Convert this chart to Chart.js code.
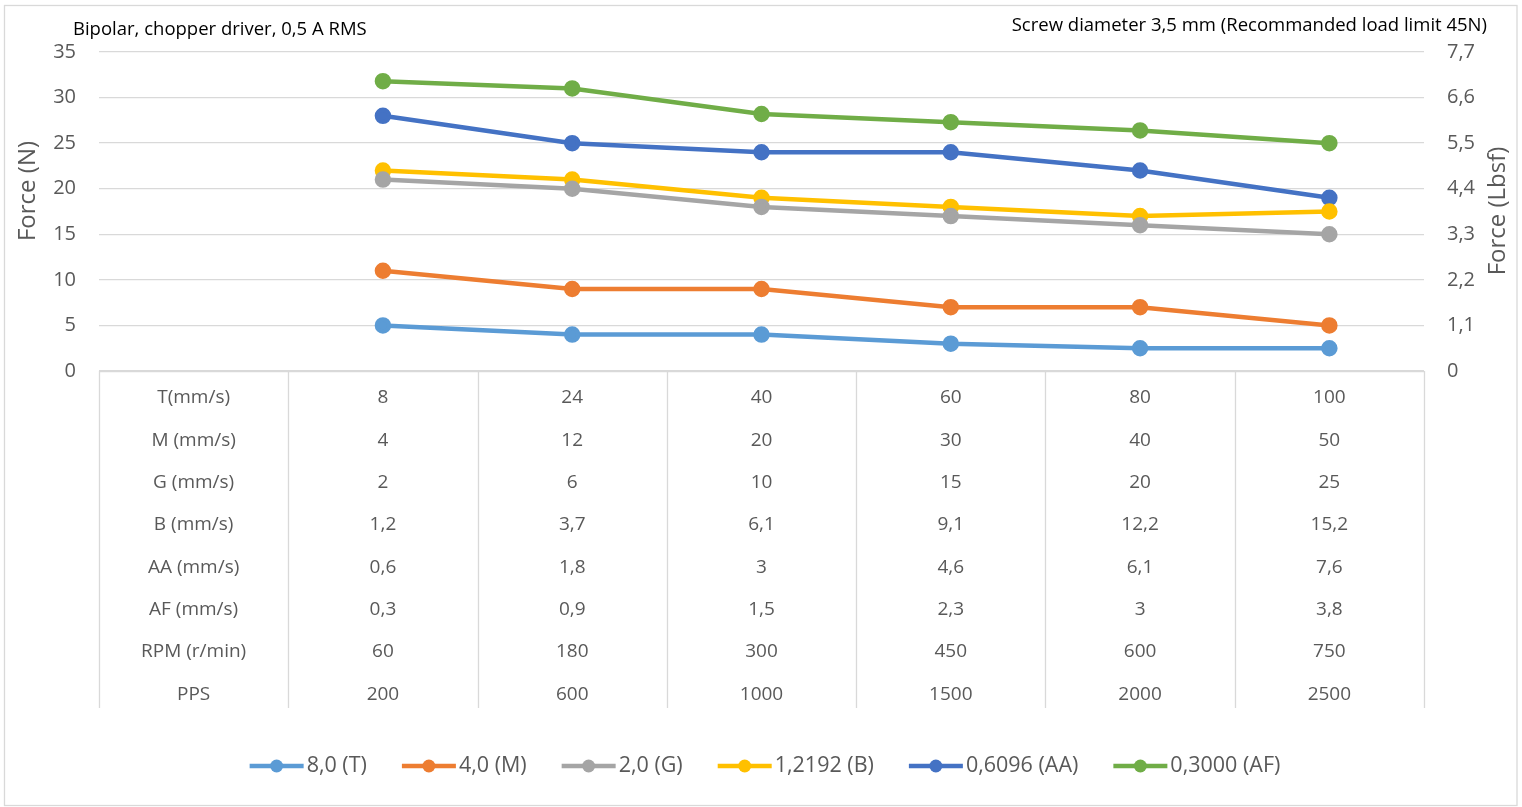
<!DOCTYPE html>
<html>
<head>
<meta charset="utf-8">
<script src="https://cdn.jsdelivr.net/npm/chart.js@4/dist/chart.umd.min.js"></script>
<style>
html,body{margin:0;padding:0;background:#fff;}
#wrap{position:relative;width:1522px;height:807px;}
</style>
</head>
<body>
<div id="wrap"><canvas id="c"></canvas></div>
<script>
// ---- data ----
const titleLeft = 'Bipolar, chopper driver, 0,5 A RMS';
const titleRight = 'Screw diameter 3,5 mm (Recommanded load limit 45N)';
const axisTitleLeft = 'Force (N)';
const axisTitleRight = 'Force (Lbsf)';

const categories = ['8', '24', '40', '60', '80', '100'];

const seriesNames = ['8,0 (T)', '4,0 (M)', '2,0 (G)', '1,2192 (B)', '0,6096 (AA)', '0,3000 (AF)'];
const seriesColors = ['#5B9BD5', '#ED7D31', '#A5A5A5', '#FFC000', '#4472C4', '#70AD47'];
const forceT  = [5, 4, 4, 3, 2.5, 2.5];
const forceM  = [11, 9, 9, 7, 7, 5];
const forceG  = [21, 20, 18, 17, 16, 15];
const forceB  = [22, 21, 19, 18, 17, 17.5];
const forceAA = [28, 25, 24, 24, 22, 19];
const forceAF = [31.8, 31, 28.2, 27.3, 26.4, 25];

const leftTicks = [0, 5, 10, 15, 20, 25, 30, 35];
const rightTicks = [0, 1.1, 2.2, 3.3, 4.4, 5.5, 6.6, 7.7];
const rightTickLabels = ['0', '1,1', '2,2', '3,3', '4,4', '5,5', '6,6', '7,7'];

const rowLabels = ['T(mm/s)', 'M (mm/s)', 'G (mm/s)', 'B (mm/s)', 'AA (mm/s)', 'AF (mm/s)', 'RPM (r/min)', 'PPS'];
const rowT   = ['8', '24', '40', '60', '80', '100'];
const rowM   = ['4', '12', '20', '30', '40', '50'];
const rowG   = ['2', '6', '10', '15', '20', '25'];
const rowB   = ['1,2', '3,7', '6,1', '9,1', '12,2', '15,2'];
const rowAA  = ['0,6', '1,8', '3', '4,6', '6,1', '7,6'];
const rowAF  = ['0,3', '0,9', '1,5', '2,3', '3', '3,8'];
const rowRPM = ['60', '180', '300', '450', '600', '750'];
const rowPPS = ['200', '600', '1000', '1500', '2000', '2500'];

// ---- build ----
const FONT = '"Open Sans", Lato, sans-serif';
const TXT = '#595959';
const GRID = '#D9D9D9';
const seriesValues = [forceT, forceM, forceG, forceB, forceAA, forceAF];
const tableRows = [rowT, rowM, rowG, rowB, rowAA, rowAF, rowRPM, rowPPS];

const labels = [''].concat(categories);
const datasets = seriesValues.map((vals, i) => ({
  label: seriesNames[i],
  data: [null].concat(vals),
  borderColor: seriesColors[i],
  backgroundColor: seriesColors[i],
  pointBackgroundColor: seriesColors[i],
  pointBorderColor: seriesColors[i],
  borderWidth: 4.5,
  pointRadius: 6,
  pointHoverRadius: 6,
  tension: 0,
  yAxisID: 'y'
}));

const decor = {
  id: 'decor',
  beforeDraw(chart) {
    const ctx = chart.ctx;
    ctx.save();
    ctx.fillStyle = '#fff';
    ctx.fillRect(0, 0, chart.width, chart.height);
    ctx.restore();
  },
  afterDraw(chart) {
    const ctx = chart.ctx;
    const area = chart.chartArea;
    const xs = chart.scales.x;
    ctx.save();
    // outer frame
    ctx.strokeStyle = GRID;
    ctx.lineWidth = 1.3;
    ctx.strokeRect(4.5, 5.5, 1512.5, 800);

    // titles
    ctx.fillStyle = '#000';
    ctx.font = '18.5px ' + FONT;
    ctx.textBaseline = 'middle';
    ctx.textAlign = 'left';
    ctx.fillText(titleLeft, 73, 30);
    ctx.textAlign = 'right';
    ctx.fillText(titleRight, 1487, 26);

    // axis titles
    ctx.fillStyle = TXT;
    ctx.font = '24px ' + FONT;
    ctx.textAlign = 'center';
    ctx.save();
    ctx.translate(28, 191);
    ctx.rotate(-Math.PI / 2);
    ctx.fillText(axisTitleLeft, 0, 0);
    ctx.restore();
    ctx.save();
    ctx.translate(1498, 211);
    ctx.rotate(-Math.PI / 2);
    ctx.fillText(axisTitleRight, 0, 0);
    ctx.restore();

    // data table
    const colW = xs.getPixelForValue(1) - xs.getPixelForValue(0);
    const top = area.bottom;
    const bottom = 708;
    ctx.strokeStyle = GRID;
    ctx.lineWidth = 1.3;
    ctx.beginPath();
    ctx.moveTo(area.left, top + 0.5);
    ctx.lineTo(area.right, top + 0.5);
    for (let i = 0; i <= labels.length; i++) {
      const x = Math.round(area.left + i * colW) + 0.5;
      ctx.moveTo(x, top);
      ctx.lineTo(x, bottom);
    }
    ctx.stroke();
    ctx.fillStyle = TXT;
    ctx.font = '19px ' + FONT;
    ctx.textAlign = 'center';
    ctx.textBaseline = 'middle';
    const rowH = 42.3;
    for (let r = 0; r < tableRows.length; r++) {
      const y = 398 + r * rowH;
      ctx.fillText(rowLabels[r], xs.getPixelForValue(0), y);
      tableRows[r].forEach((v, c) => ctx.fillText(v, xs.getPixelForValue(c + 1), y));
    }

    // legend
    ctx.font = '21.5px ' + FONT;
    const lineLen = 54, gapTxt = 3, gapItem = 35;
    const items = chart.data.datasets.map(ds => ({
      text: ds.label, color: ds.borderColor, w: lineLen + gapTxt + ctx.measureText(ds.label).width
    }));
    const total = items.reduce((s, it) => s + it.w, 0) + gapItem * (items.length - 1);
    let x = 765 - total / 2;
    const ly = 766;
    items.forEach(it => {
      ctx.strokeStyle = it.color;
      ctx.lineWidth = 4.5;
      ctx.beginPath();
      ctx.moveTo(x, ly);
      ctx.lineTo(x + lineLen, ly);
      ctx.stroke();
      ctx.fillStyle = it.color;
      ctx.beginPath();
      ctx.arc(x + lineLen / 2, ly, 6.5, 0, Math.PI * 2);
      ctx.fill();
      ctx.fillStyle = TXT;
      ctx.textAlign = 'left';
      ctx.fillText(it.text, x + lineLen + gapTxt, ly);
      x += it.w + gapItem;
    });
    ctx.restore();
  }
};

new Chart(document.getElementById('c'), {
  type: 'line',
  data: { labels: labels, datasets: datasets },
  options: {
    responsive: true,
    maintainAspectRatio: false,
    animation: false,
    devicePixelRatio: 1,
    layout: { padding: { top: 52, bottom: 436, left: 0, right: 0 } },
    plugins: { legend: { display: false }, title: { display: false }, tooltip: { enabled: false } },
    scales: {
      x: { type: 'category', display: false, offset: true },
      y: {
        position: 'left', min: 0, max: 35,
        afterBuildTicks: s => { s.ticks = leftTicks.map(v => ({ value: v })); },
        afterFit: s => { s.width = 99; },
        border: { display: false },
        grid: { color: GRID, lineWidth: 1.3, drawTicks: false },
        ticks: { color: TXT, font: { family: FONT, size: 20 }, padding: 23 }
      },
      y2: {
        position: 'right', min: 0, max: 7.7,
        afterBuildTicks: s => { s.ticks = rightTicks.map(v => ({ value: v })); },
        afterFit: s => { s.width = 98; },
        border: { display: false },
        grid: { display: false, drawTicks: false },
        ticks: { color: TXT, font: { family: FONT, size: 20 }, padding: 23,
                 callback: (v, i) => rightTickLabels[i] }
      }
    }
  },
  plugins: [decor]
});
</script>
</body>
</html>
